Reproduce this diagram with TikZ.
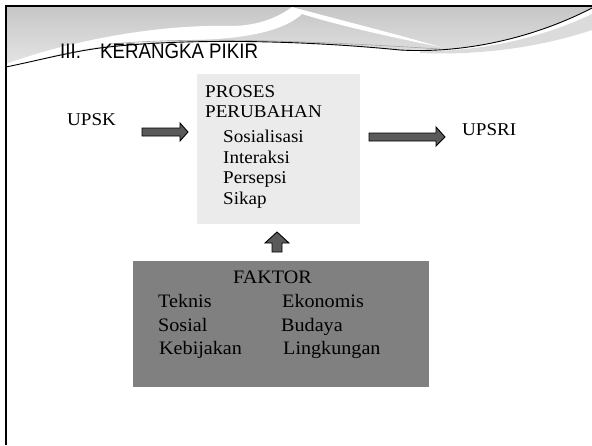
\documentclass[tikz,border=0pt]{standalone}
\usepackage{fontspec}
\newfontfamily\titlefont[FakeStretch=0.89]{Liberation Sans}
\newfontfamily\palfont[FakeStretch=1.06]{Liberation Serif}
\definecolor{lightbox}{HTML}{EBEBEB}
\definecolor{darkbox}{HTML}{808080}
\definecolor{arrowfill}{HTML}{5A5A5A}
\begin{document}
\begin{tikzpicture}[x=1pt,y=-1pt,
  txt/.style={inner sep=0pt,anchor=base west,font=\palfont\fontsize{18}{20}\selectfont},
  ftxt/.style={inner sep=0pt,anchor=base west,font=\palfont\fontsize{19}{21}\selectfont},
  ttl/.style={inner sep=0pt,anchor=base west,font=\titlefont\fontsize{21}{22}\selectfont},
  blockarrow/.style={fill=arrowfill,draw=black,line width=0.9pt,line join=miter}]
\useasboundingbox (0,0) rectangle (592,445);
\fill[white] (0,0) rectangle (592,445);
% header shading
\shade[top color=gray!45,bottom color=gray!20]
  (6,6) -- (592,6) -- (592,8)
  .. controls (540,35) and (470,54) .. (400,50)
  .. controls (300,40) and (180,38) .. (100,48)
  .. controls (70,52) and (40,60) .. (6,67) -- cycle;
% white swoosh with thin streak
\fill[white]
  (6,64) .. controls (60,44) and (150,24) .. (230,26)
  .. controls (260,26) and (280,16) .. (292,7)
  .. controls (340,20) and (400,35) .. (440,47)
  .. controls (400,39) and (340,26) .. (302,14)
  .. controls (285,30) and (250,38) .. (200,40)
  .. controls (150,42) and (110,44) .. (100,47)
  .. controls (60,52) and (40,60) .. (6,67) -- cycle;
% light band right
\fill[gray!28] (420,51) .. controls (490,52) and (550,34) .. (592,14)
  -- (592,30) .. controls (550,44) and (490,56) .. (420,53) -- cycle;
\draw[gray!70,line width=0.6pt] (110,44) .. controls (200,36) and (330,42) .. (440,49);
\draw[black,line width=0.9pt] (6,67) .. controls (40,60) and (70,52) .. (100,48)
  .. controls (180,38) and (300,40) .. (400,50)
  .. controls (470,54) and (540,35) .. (592,8);
% frame
\draw[black,line width=2.5pt] (6,445) -- (6,6) -- (592,6);
% title
\node[ttl] (t1) at (60,58) {III.};
\node[ttl] (t2) at (100,58) {KERANGKA PIKIR};
% process box
\node[fill=lightbox,minimum width=163pt,minimum height=150pt,inner sep=0pt,anchor=north west] (proc) at (197,74) {};
\node[txt] (p1) at (205,97) {PROSES};
\node[txt] (p2) at (205,117) {PERUBAHAN};
\node[txt] (p3) at (223,142) {Sosialisasi};
\node[txt] (p4) at (223,163) {Interaksi};
\node[txt] (p5) at (223,183) {Persepsi};
\node[txt] (p6) at (223,204) {Sikap};
% side labels
\node[txt] (upsk) at (67,125) {UPSK};
\node[txt] (upsri) at (462,135) {UPSRI};
% factor box
\node[fill=darkbox,minimum width=296pt,minimum height=126pt,inner sep=0pt,anchor=north west] (fak) at (133,261) {};
\node[ftxt] (f0) at (233,283) {FAKTOR};
\node[ftxt] (f1) at (158,307) {Teknis};
\node[ftxt] (f2) at (158,331) {Sosial};
\node[ftxt] (f3) at (159,354) {Kebijakan};
\node[ftxt] (f4) at (282,307) {Ekonomis};
\node[ftxt] (f5) at (281,331) {Budaya};
\node[ftxt] (f6) at (283,354) {Lingkungan};
% block arrows
\draw[blockarrow] (142,128) -- (180,128) -- (180,123) -- (188,132) -- (180,141) -- (180,136) -- (142,136) -- cycle;
\draw[blockarrow] (369,133) -- (436,133) -- (436,127) -- (445,137) -- (436,146) -- (436,141) -- (369,141) -- cycle;
\draw[blockarrow] (272,252) -- (272,243) -- (265,243) -- (277,232) -- (289,243) -- (282,243) -- (282,252) -- cycle;
\end{tikzpicture}
\end{document}
